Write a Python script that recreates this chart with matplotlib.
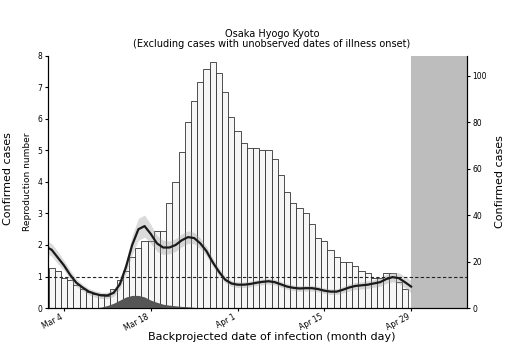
import pandas as pd
import matplotlib
matplotlib.use("Agg")
import matplotlib.pyplot as plt

# daily confirmed cases by backprojected infection date (Mar 2 - Apr 28)
case_dates = pd.date_range("2020-03-02", "2020-04-28", freq="D")
cases = [17, 16, 13, 12, 10, 8, 7, 6, 6, 5, 8, 12, 16, 22, 26, 29, 29, 33, 33, 45,
         54, 67, 80, 89, 97, 103, 106, 101, 93, 82, 76, 71, 69, 69, 68, 68, 64, 57,
         50, 45, 43, 41, 36, 30, 29, 25, 22, 20, 20, 18, 16, 15, 13, 13, 15, 15, 11, 8]

# reproduction number estimate (Mar 1 - Apr 29)
r_dates = pd.date_range("2020-03-01", "2020-04-29", freq="D")
r_mid = [1.95, 1.85, 1.6, 1.35, 1.05, 0.8, 0.65, 0.52, 0.45, 0.4, 0.4, 0.48, 0.75, 1.3,
         2.0, 2.5, 2.6, 2.35, 2.05, 1.92, 1.92, 2.0, 2.15, 2.25, 2.22, 2.05, 1.8, 1.45,
         1.15, 0.9, 0.78, 0.74, 0.74, 0.76, 0.8, 0.83, 0.85, 0.82, 0.75, 0.68, 0.64,
         0.62, 0.63, 0.63, 0.6, 0.55, 0.52, 0.52, 0.58, 0.65, 0.7, 0.72, 0.74, 0.78,
         0.82, 0.92, 0.98, 0.95, 0.82, 0.68]
r_hi = [2.15, 2.05, 1.8, 1.5, 1.2, 0.92, 0.75, 0.62, 0.55, 0.5, 0.5, 0.6, 0.9, 1.5,
        2.3, 2.85, 2.95, 2.65, 2.3, 2.15, 2.12, 2.2, 2.35, 2.45, 2.4, 2.22, 1.95, 1.58,
        1.27, 1.0, 0.87, 0.83, 0.83, 0.85, 0.89, 0.92, 0.94, 0.91, 0.84, 0.77, 0.73,
        0.71, 0.72, 0.72, 0.69, 0.64, 0.61, 0.61, 0.68, 0.76, 0.81, 0.83, 0.86, 0.9,
        0.95, 1.06, 1.13, 1.12, 1.0, 0.88]
r_lo = [1.75, 1.65, 1.4, 1.2, 0.9, 0.68, 0.55, 0.42, 0.35, 0.3, 0.3, 0.36, 0.6, 1.1,
        1.7, 2.15, 2.25, 2.05, 1.8, 1.7, 1.72, 1.8, 1.95, 2.05, 2.04, 1.88, 1.65, 1.32,
        1.03, 0.8, 0.69, 0.65, 0.65, 0.67, 0.71, 0.74, 0.76, 0.73, 0.66, 0.59, 0.55,
        0.53, 0.54, 0.54, 0.51, 0.46, 0.43, 0.43, 0.48, 0.54, 0.59, 0.61, 0.62, 0.66,
        0.69, 0.78, 0.83, 0.78, 0.64, 0.48]

# dark grey component near the bottom (Mar 9 - Mar 26)
sub_dates = pd.date_range("2020-03-09", "2020-03-26", freq="D")
sub_r = [0.0, 0.03, 0.08, 0.15, 0.25, 0.35, 0.4, 0.4, 0.35, 0.25, 0.18, 0.12, 0.09,
         0.07, 0.05, 0.04, 0.02, 0.0]

tick_dates = pd.to_datetime(["2020-03-04", "2020-03-18", "2020-04-01",
                             "2020-04-15", "2020-04-29"])
tick_labels = ["Mar 4", "Mar 18", "Apr 1", "Apr 15", "Apr 29"]

fig = plt.figure(figsize=(5.24, 3.51), dpi=100)
ax = fig.add_axes([0.0916, 0.1225, 0.7994, 0.718])
ax2 = ax.twinx()
ax.set_zorder(ax2.get_zorder() + 1)
ax.patch.set_visible(False)

x_left = pd.Timestamp("2020-03-01 10:00")
x_right = pd.Timestamp("2020-05-08")

ax2.axvspan(pd.Timestamp("2020-04-29"), x_right, color="#bdbdbd", zorder=0, lw=0)
ax2.bar(case_dates, cases, width=1.0, color="#f6f6f6", edgecolor="#333333",
        linewidth=0.6, zorder=1)
ax2.set_ylim(0, 108.4)
ax2.set_yticks([0, 20, 40, 60, 80, 100])
ax2.tick_params(axis="y", labelsize=5.5, length=2, pad=2)
ax2.set_ylabel("Confirmed cases", fontsize=8, labelpad=6)

ax.fill_between(r_dates, r_lo, r_hi, color="#9a9a9a", alpha=0.35, lw=0)
ax.fill_between(sub_dates, 0, sub_r, color="#555555", lw=0)
ax.plot(r_dates, r_mid, color="#1a1a1a", lw=1.6)
ax.axhline(1, color="#222222", lw=0.8, ls=(0, (3, 2)))
ax.set_ylim(0, 8)
ax.set_yticks(range(9))
ax.set_xlim(x_left, x_right)
ax.set_xticks(tick_dates)
ax.set_xticklabels(tick_labels, rotation=28, ha="right", fontsize=5.5)
ax.tick_params(axis="y", labelsize=5.5, length=2, pad=2)
ax.tick_params(axis="x", length=2, pad=1)
ax.set_ylabel("Reproduction number", fontsize=6.5, labelpad=4)

for a in (ax, ax2):
    a.spines["top"].set_visible(False)

fig.text(0.016, 0.49, "Confirmed cases", rotation=90, fontsize=8,
         ha="center", va="center")
fig.text(0.519, 0.89, "Osaka Hyogo Kyoto\n(Excluding cases with unobserved dates of illness onset)",
         ha="center", va="center", fontsize=7, linespacing=1.0)
fig.text(0.519, 0.04, "Backprojected date of infection (month day)",
         ha="center", va="center", fontsize=8)

fig.savefig("out.png", dpi=100)
